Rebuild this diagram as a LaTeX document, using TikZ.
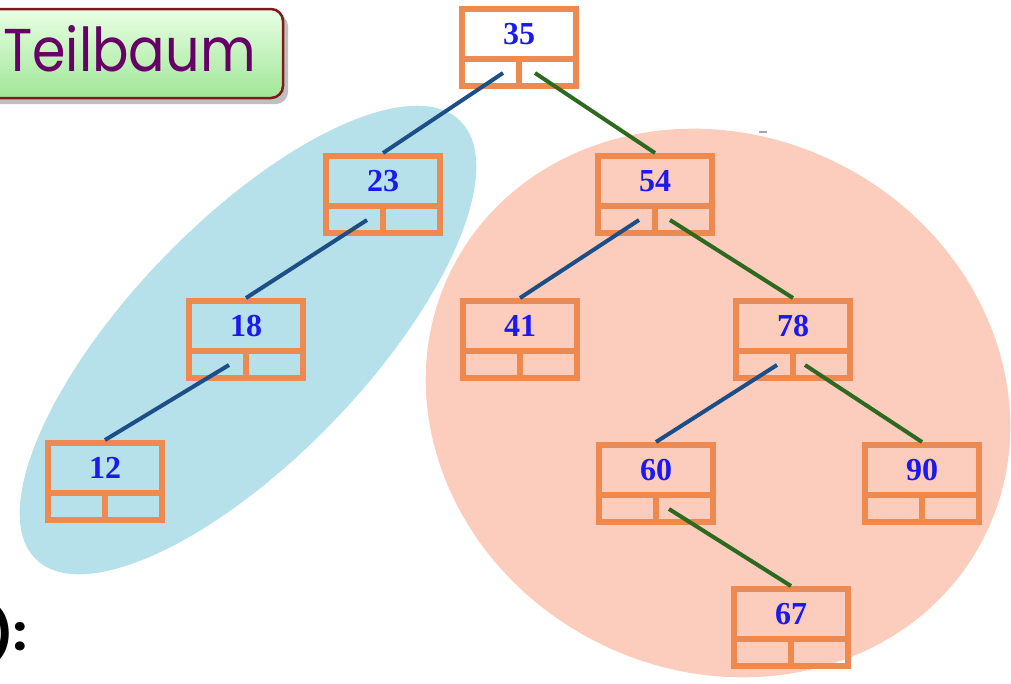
\documentclass[tikz,border=0pt]{standalone}
\usepackage{fontspec}
\setmainfont{Liberation Serif}
\newfontfamily\comicfont{Poppins}
\usetikzlibrary{calc}
\definecolor{boxor}{RGB}{238,138,80}
\definecolor{numblue}{RGB}{25,25,240}
\definecolor{edgeblue}{RGB}{28,78,135}
\definecolor{edgegreen}{RGB}{45,105,30}
\definecolor{lblue}{RGB}{182,224,234}
\definecolor{salmon}{RGB}{252,205,188}
\definecolor{tbred}{RGB}{130,25,25}
\definecolor{tbpurple}{RGB}{102,0,102}
\definecolor{tbtop}{RGB}{232,255,228}
\definecolor{tbmid}{RGB}{184,244,174}
\definecolor{tbbot}{RGB}{160,230,150}
\begin{document}
\begin{tikzpicture}[x=1pt,y=-1pt,
  tn/.style={draw=boxor, line width=6pt, outer sep=0pt, inner sep=0pt,
    minimum width=114pt, minimum height=77pt, text height=35pt, text depth=42pt,
    anchor=north, font=\fontsize{32}{32}\selectfont\bfseries, text=numblue},
  divider/.style={draw=boxor, line width=6pt},
  ledge/.style={draw=edgeblue, line width=4pt},
  redge/.style={draw=edgegreen, line width=4pt}]
\useasboundingbox (0,0) rectangle (1011,683);
\clip (0,0) rectangle (1011,683);
% subtree regions
\fill[lblue, rotate around={46:(248,340)}] (248,340) ellipse [x radius=305pt, y radius=118pt];
\fill[salmon, rotate around={-26.6:(718,403)}] (718,403) ellipse [x radius=298pt, y radius=268pt];
\draw[gray!70, line width=2pt] (759,132) -- (767,132);
% label box
\fill[black, opacity=0.25, rounded corners=12pt] (-16,14) rectangle (288,104);
\draw[tbred, line width=2.5pt, rounded corners=12pt, top color=tbtop, middle color=tbmid, bottom color=tbbot] (-20,9) rectangle (283,98);
\node[font=\comicfont\fontsize{54}{54}\selectfont, text=tbpurple, anchor=base west, inner sep=0pt] (tb) at (3,71) {\scalebox{1}[1.12]{Teilbaum}};
\node[font=\comicfont\bfseries\fontsize{48}{48}\selectfont, anchor=base west, inner sep=0pt] (pc) at (-10,650) {):};
% tree nodes
\node[tn] (n35) at (519,9) {35};
\node[tn] (n23) at (383,156) {23};
\node[tn] (n54) at (655,156) {54};
\node[tn] (n18) at (246,301) {18};
\node[tn] (n41) at (520,301) {41};
\node[tn] (n78) at (793,301) {78};
\node[tn] (n12) at (105,443) {12};
\node[tn] (n60) at (656,445) {60};
\node[tn] (n90) at (922,445) {90};
\node[tn] (n67) at (791,589) {67};
\foreach \n in {n35,n23,n54,n18,n41,n78,n12,n60,n90,n67}{
  \draw[divider] ($(\n.south west)+(0,-27)$) -- ($(\n.south east)+(0,-27)$);
  \draw[divider] ($(\n.south)+(0,-27)$) -- (\n.south);
}
% edges
\draw[ledge] ($(n35.south)+(-16,-13)$) -- ($(n23.north)+(0,-3)$);
\draw[redge] ($(n35.south)+(16,-13)$) -- ($(n54.north)+(0,-3)$);
\draw[ledge] ($(n23.south)+(-16,-13)$) -- ($(n18.north)+(0,-3)$);
\draw[ledge] ($(n54.south)+(-16,-13)$) -- ($(n41.north)+(0,-3)$);
\draw[redge] ($(n54.south)+(15,-13)$) -- ($(n78.north)+(0,-3)$);
\draw[ledge] ($(n18.south)+(-17,-13)$) -- ($(n12.north)+(0,-3)$);
\draw[ledge] ($(n78.south)+(-16,-13)$) -- ($(n60.north)+(0,-3)$);
\draw[redge] ($(n78.south)+(12,-13)$) -- ($(n90.north)+(0,-3)$);
\draw[redge] ($(n60.south)+(13,-13)$) -- ($(n67.north)+(0,-3)$);
\end{tikzpicture}
\end{document}
